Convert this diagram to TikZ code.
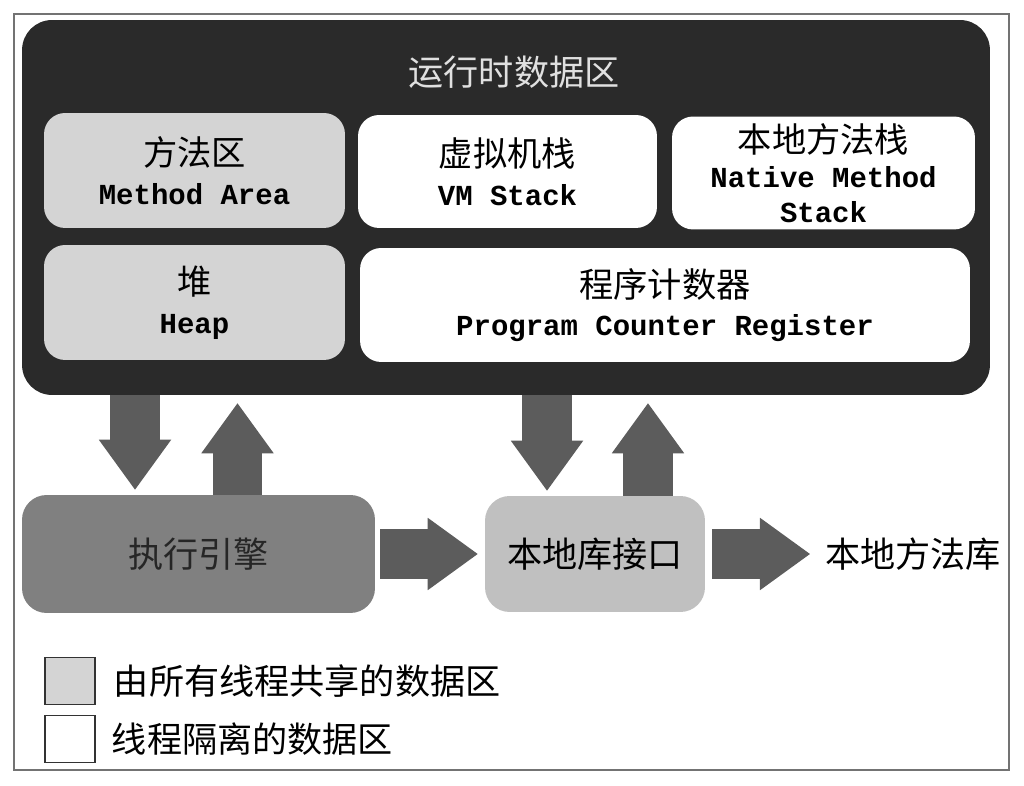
\documentclass[tikz,border=0pt]{standalone}
\usepackage{fontspec}
\usepackage{tikz}
\usetikzlibrary{arrows.meta,positioning}
\newfontfamily\cjk{Noto Sans CJK SC}
\newfontfamily\monofont{Liberation Mono}
\definecolor{rtdark}{RGB}{42,42,42}
\definecolor{sharedgray}{RGB}{212,212,212}
\definecolor{enginegray}{RGB}{128,128,128}
\definecolor{jnigray}{RGB}{192,192,192}
\definecolor{arrowgray}{RGB}{92,92,92}
\newcommand{\zh}[1]{{\cjk\fontsize{19.5}{22}\selectfont\mdseries #1}}

\begin{document}
\begin{tikzpicture}[
    x=0.02cm, y=-0.02cm,
    area/.style={rounded corners=12pt, align=center, inner sep=0pt,
                 font=\fontsize{16.5}{22}\selectfont\monofont\bfseries},
    shared/.style={area, fill=sharedgray},
    private/.style={area, fill=white},
    unit/.style={rounded corners=14pt, inner sep=0pt,
                 font=\fontsize{20}{22}\selectfont\cjk},
    blockarr/.style={line width=1cm, draw=arrowgray,
                     -{Triangle[length=1cm, width=1.45cm, line width=0pt]}},
    legbox/.style={draw=black!80, line width=0.8pt,
                   minimum width=1cm, minimum height=0.94cm},
    plain/.style={font=\fontsize{20}{22}\selectfont\cjk}
]
    \useasboundingbox (0,0) rectangle (1024,786);
    \draw[black!55, line width=0.8pt] (14,14) rectangle (1009,770);

    % runtime data area
    \node[fill=rtdark, rounded corners=17pt, minimum width=19.36cm,
          minimum height=7.5cm] (rt) at (506,207.5) {};
    \node[plain, text=white!88!black] (title) at (514,72) {运行时数据区};

    \node[shared, minimum width=6.02cm, minimum height=2.3cm]  (ma)   at (194.5,170.5) {\zh{方法区}\\Method Area};
    \node[private, minimum width=5.98cm, minimum height=2.26cm] (vm)   at (507.5,171.5) {\zh{虚拟机栈}\\VM Stack};
    \node[private, minimum width=6.06cm, minimum height=2.26cm,
          font=\fontsize{16.5}{20}\selectfont\monofont\bfseries] (nms) at (823.5,173) {\zh{本地方法栈}\\Native Method\\Stack};
    \node[shared, minimum width=6.02cm, minimum height=2.3cm]  (heap) at (194.5,302.5) {\zh{堆}\\Heap};
    \node[private, minimum width=12.2cm, minimum height=2.28cm] (pc)   at (665,305)     {\zh{程序计数器}\\Program Counter Register};

    % execution side
    \node[unit, fill=enginegray, text=black!85, minimum width=7.06cm, minimum height=2.36cm] (exec) at (198.5,554) {执行引擎};
    \node[unit, fill=jnigray, minimum width=4.4cm, minimum height=2.32cm] (jni) at (595,554) {本地库接口};
    \node[plain] (nlib) at (913,554) {本地方法库};

    \coordinate (d1) at ([xshift=-1.27cm]exec.north);
    \coordinate (u1) at ([xshift=0.78cm]exec.north);
    \coordinate (d2) at ([xshift=-0.96cm]jni.north);
    \coordinate (u2) at ([xshift=1.06cm]jni.north);

    \draw[blockarr, shorten >=0.1cm]  (rt.south -| d1) -- (d1);
    \draw[blockarr, shorten >=0.16cm] (u1) -- (rt.south -| u1);
    \draw[blockarr, shorten >=0.1cm]  (rt.south -| d2) -- (d2);
    \draw[blockarr, shorten >=0.16cm] (u2) -- (rt.south -| u2);
    \draw[blockarr, shorten <=0.1cm, shorten >=0.14cm]  (exec) -- (jni);
    \draw[blockarr, shorten <=0.14cm, shorten >=0.18cm] (jni) -- (nlib);

    % legend
    \node[legbox, fill=sharedgray] (leg1) at (70,681) {};
    \node[plain, right=0.24cm of leg1] (leg1txt) {由所有线程共享的数据区};
    \node[legbox, fill=white] (leg2) at (70,739) {};
    \node[plain, right=0.2cm of leg2] (leg2txt) {线程隔离的数据区};
\end{tikzpicture}
\end{document}
